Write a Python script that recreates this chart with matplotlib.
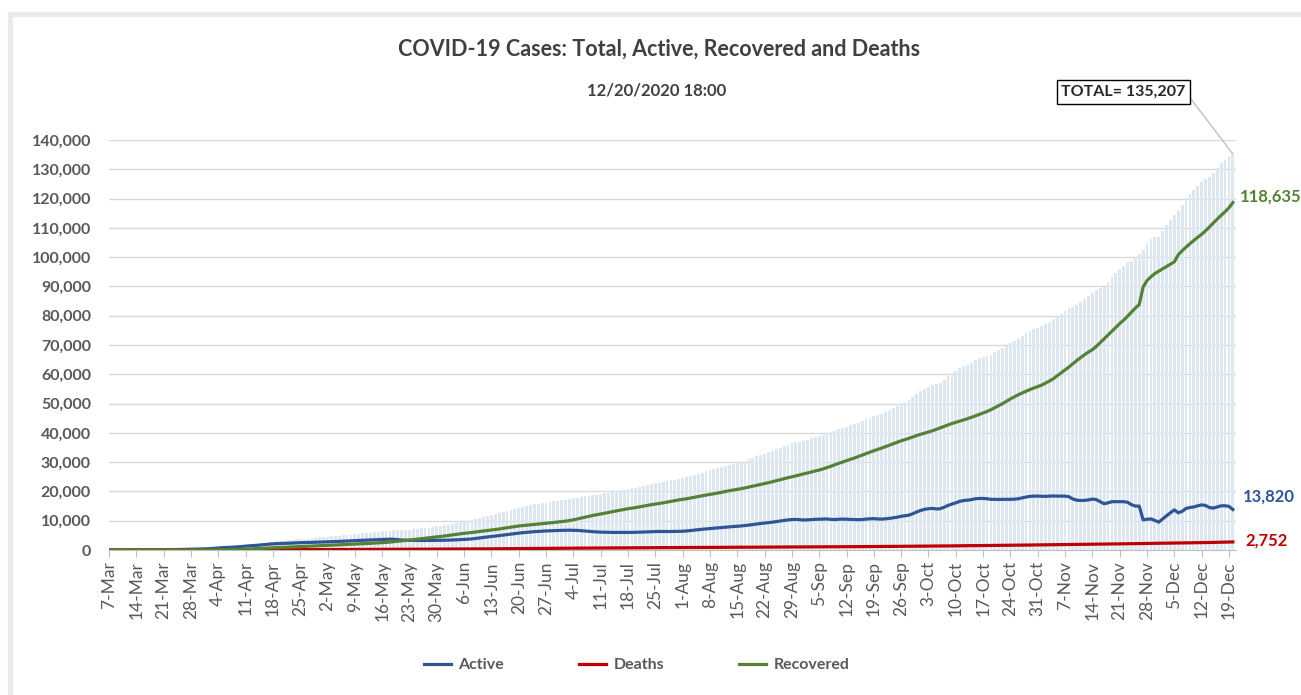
import numpy as np
import pandas as pd
import matplotlib
matplotlib.use('Agg')
import matplotlib.pyplot as plt
from matplotlib.patches import Rectangle
from matplotlib.ticker import FuncFormatter

plt.rcParams['font.family'] = ['Lato', 'DejaVu Sans']

start_date = '2020-03-07'
end_date = '2020-12-20'
stamp = '12/20/2020 18:00'

# daily values, one row per week (Sat..Fri)
active = [
    1, 1, 3, 3, 6, 6, 12,
    23, 29, 30, 36, 49, 66, 80,
    92, 107, 122, 145, 172, 195, 225,
    255, 292, 335, 345, 405, 460, 570,
    680, 790, 850, 910, 980, 1080, 1190,
    1320, 1440, 1530, 1620, 1750, 1870, 1980,
    2090, 2150, 2200, 2260, 2330, 2390, 2440,
    2490, 2530, 2560, 2600, 2650, 2700, 2740,
    2780, 2830, 2880, 2930, 3000, 3070, 3140,
    3200, 3260, 3320, 3380, 3430, 3490, 3550,
    3610, 3650, 3700, 3640, 3520, 3420, 3350,
    3310, 3280, 3260, 3250, 3240, 3250, 3270,
    3290, 3300, 3320, 3360, 3410, 3470, 3540,
    3610, 3690, 3800, 3950, 4120, 4300, 4460,
    4600, 4760, 4930, 5100, 5280, 5450, 5620,
    5800, 5920, 6040, 6150, 6260, 6350, 6430,
    6500, 6560, 6620, 6670, 6710, 6740, 6760,
    6740, 6690, 6600, 6480, 6350, 6250, 6170,
    6100, 6060, 6030, 6010, 6000, 5990, 5990,
    6000, 6020, 6050, 6100, 6150, 6200, 6250,
    6300, 6330, 6320, 6300, 6310, 6340, 6370,
    6400, 6500, 6650, 6800, 6950, 7080, 7200,
    7300, 7420, 7550, 7680, 7800, 7920, 8020,
    8100, 8200, 8350, 8520, 8700, 8880, 9050,
    9200, 9350, 9500, 9700, 9900, 10100, 10280,
    10400, 10450, 10350, 10250, 10300, 10400, 10480,
    10500, 10550, 10600, 10450, 10400, 10500, 10550,
    10500, 10450, 10400, 10350, 10400, 10550, 10650,
    10700, 10600, 10550, 10650, 10800, 11000, 11200,
    11500, 11700, 11900, 12400, 13000, 13500, 13900,
    14100, 14200, 14000, 14100, 14600, 15200, 15700,
    16100, 16600, 16900, 17000, 17200, 17500, 17600,
    17600, 17500, 17300, 17300, 17250, 17300, 17300,
    17300, 17350, 17500, 17800, 18100, 18300, 18400,
    18400, 18350, 18300, 18400, 18450, 18400, 18400,
    18400, 18200, 17400, 17000, 16900, 16950, 17100,
    17400, 17200, 16500, 15800, 16100, 16500, 16500,
    16500, 16500, 16300, 15500, 15000, 15000, 10300,
    10500, 10600, 10100, 9500, 10600, 11700, 12700,
    13700, 12700, 13200, 14200, 14500, 14700, 15100,
    15400, 15200, 14500, 14300, 14700, 15100, 15100,
    14900, 13820,
]

recovered = [
    0, 0, 0, 0, 0, 0, 0,
    0, 0, 0, 0, 0, 1, 1,
    1, 1, 1, 2, 2, 3, 3,
    5, 8, 12, 18, 25, 30, 40,
    50, 70, 90, 120, 150, 190, 240,
    300, 350, 400, 460, 520, 590, 650,
    710, 760, 820, 870, 930, 990, 1050,
    1110, 1170, 1240, 1320, 1390, 1460, 1530,
    1600, 1660, 1710, 1770, 1830, 1890, 1950,
    2010, 2080, 2140, 2210, 2280, 2350, 2420,
    2500, 2600, 2700, 2850, 3000, 3100, 3250,
    3400, 3550, 3700, 3850, 4000, 4150, 4300,
    4450, 4620, 4780, 4950, 5150, 5350, 5530,
    5700, 5850, 5980, 6150, 6320, 6500, 6650,
    6800, 6990, 7180, 7400, 7600, 7800, 8000,
    8200, 8330, 8450, 8600, 8750, 8880, 9000,
    9100, 9250, 9400, 9550, 9700, 9850, 10050,
    10300, 10600, 10900, 11200, 11500, 11800, 12050,
    12300, 12550, 12800, 13100, 13350, 13600, 13850,
    14100, 14300, 14500, 14750, 14990, 15250, 15480,
    15700, 15900, 16100, 16350, 16600, 16850, 17100,
    17300, 17500, 17750, 18000, 18250, 18500, 18750,
    19000, 19200, 19450, 19700, 20000, 20250, 20500,
    20700, 20950, 21200, 21500, 21800, 22100, 22400,
    22700, 23000, 23300, 23650, 24000, 24350, 24700,
    25000, 25300, 25650, 26000, 26300, 26650, 27000,
    27300, 27700, 28150, 28600, 29100, 29600, 30050,
    30500, 30950, 31400, 31900, 32400, 32900, 33400,
    33900, 34350, 34800, 35300, 35800, 36300, 36800,
    37300, 37700, 38150, 38600, 39100, 39500, 39900,
    40300, 40700, 41200, 41700, 42200, 42700, 43200,
    43600, 44000, 44400, 44850, 45300, 45800, 46300,
    46800, 47300, 47900, 48600, 49300, 50000, 50800,
    51600, 52300, 53000, 53600, 54200, 54800, 55300,
    55800, 56300, 57000, 57700, 58500, 59500, 60500,
    61500, 62500, 63600, 64700, 65700, 66700, 67600,
    68400, 69500, 70800, 72100, 73400, 74700, 76000,
    77300, 78500, 79800, 81200, 82600, 83800, 89800,
    92000, 93300, 94400, 95200, 96000, 96800, 97600,
    98400, 100800, 102200, 103400, 104600, 105700, 106800,
    107800, 109000, 110300, 111700, 113000, 114300, 115500,
    116900, 118635,
]

deaths = [
    0, 0, 0, 0, 0, 0, 0,
    0, 0, 0, 0, 0, 0, 1,
    1, 1, 1, 1, 1, 1, 1,
    2, 2, 2, 3, 4, 5, 8,
    12, 15, 19, 23, 27, 29, 31,
    35, 40, 45, 50, 56, 61, 66,
    70, 75, 78, 82, 86, 91, 96,
    100, 104, 108, 112, 117, 122, 128,
    135, 140, 145, 150, 155, 160, 165,
    170, 176, 181, 187, 193, 199, 205,
    210, 216, 222, 228, 234, 240, 245,
    250, 256, 262, 267, 272, 277, 281,
    285, 291, 298, 305, 312, 319, 325,
    332, 342, 353, 364, 376, 388, 400,
    412, 424, 436, 448, 460, 472, 484,
    495, 505, 515, 525, 535, 545, 555,
    564, 573, 582, 591, 600, 609, 618,
    627, 636, 645, 654, 663, 672, 681,
    690, 698, 706, 714, 722, 730, 738,
    746, 754, 762, 770, 778, 786, 794,
    802, 808, 814, 820, 826, 832, 838,
    844, 850, 856, 862, 868, 874, 880,
    886, 892, 898, 904, 910, 916, 922,
    928, 934, 940, 946, 952, 958, 964,
    970, 976, 982, 988, 994, 1000, 1006,
    1012, 1019, 1026, 1033, 1040, 1047, 1054,
    1062, 1070, 1078, 1086, 1094, 1102, 1110,
    1118, 1127, 1136, 1145, 1154, 1163, 1172,
    1181, 1191, 1201, 1211, 1221, 1231, 1241,
    1251, 1262, 1273, 1284, 1295, 1306, 1318,
    1330, 1342, 1354, 1366, 1378, 1391, 1404,
    1417, 1430, 1444, 1458, 1472, 1486, 1500,
    1514, 1529, 1544, 1559, 1574, 1589, 1604,
    1619, 1635, 1651, 1667, 1683, 1699, 1715,
    1731, 1748, 1765, 1782, 1799, 1816, 1833,
    1850, 1867, 1884, 1901, 1918, 1935, 1952,
    1969, 1987, 2005, 2023, 2041, 2059, 2077,
    2095, 2114, 2133, 2152, 2171, 2190, 2209,
    2228, 2248, 2268, 2288, 2308, 2328, 2348,
    2368, 2389, 2410, 2431, 2452, 2473, 2494,
    2515, 2540, 2565, 2590, 2615, 2640, 2665,
    2700, 2752,
]

dates = pd.date_range(start_date, end_date, freq='D')
tick_labels = [f'{d.day}-{d.strftime("%b")}' for d in dates[::7]]

total = np.array(active) + np.array(recovered) + np.array(deaths)
x = np.arange(len(dates))

C_ACT = '#2f5597'
C_DEA = '#c00000'
C_REC = '#548235'
C_TXT = '#595959'

W, H = 1301, 695
fig = plt.figure(figsize=(W / 100, H / 100), dpi=100)
fig.patches.append(Rectangle((9.5 / W, -0.2), 1.5, 1 - 13.5 / H + 0.2,
                             transform=fig.transFigure, fill=False,
                             ec='#ebebeb', lw=3.8))

ax = fig.add_axes([109 / W, 1 - 550 / H, (1236 - 109) / W, (550 - 140) / H])
ax.bar(x, total, width=0.72, color='#dde7f2', linewidth=0, zorder=1)
l_act, = ax.plot(x, active, color=C_ACT, lw=2.3, zorder=3, label='Active')
l_dea, = ax.plot(x, deaths, color=C_DEA, lw=2.3, zorder=3, label='Deaths')
l_rec, = ax.plot(x, recovered, color=C_REC, lw=2.3, zorder=3, label='Recovered')

ax.set_xlim(0, len(x) - 0.2)
ax.set_ylim(0, 140000)
ax.set_yticks(np.arange(0, 140001, 10000))
ax.yaxis.set_major_formatter(FuncFormatter(lambda v, p: f'{v:,.0f}'))
ax.grid(axis='y', color='#d9d9d9', lw=1)
ax.set_axisbelow(True)
for s in ['top', 'right', 'left']:
    ax.spines[s].set_visible(False)
ax.spines['bottom'].set_color('#bfbfbf')
ax.tick_params(axis='y', length=0, pad=13, labelsize=11.5, labelcolor=C_TXT)
for t in ax.get_yticklabels():
    t.set_fontweight('bold')
ax.set_xticks(x[::7])
ax.set_xticklabels(tick_labels, rotation=90, fontsize=12.5, color=C_TXT)
ax.tick_params(axis='x', length=5, color='#bfbfbf', pad=3)

# end-of-series labels
ax.annotate(f'{recovered[-1]:,}', (x[-1], recovered[-1]), xytext=(7, 6),
            textcoords='offset pixels', color=C_REC, fontsize=12,
            fontweight='bold', va='center', annotation_clip=False)
ax.annotate(f'{active[-1]:,}', (x[-1], active[-1]), xytext=(10, 13),
            textcoords='offset pixels', color=C_ACT, fontsize=12,
            fontweight='bold', va='center', annotation_clip=False)
ax.annotate(f'{deaths[-1]:,}', (x[-1], deaths[-1]), xytext=(12, 1),
            textcoords='offset pixels', color=C_DEA, fontsize=12,
            fontweight='bold', va='center', annotation_clip=False)
ax.annotate(f'TOTAL= {total[-1]:,}', (x[-1], total[-1]),
            xytext=(1123.5, H - 92), textcoords='figure pixels',
            ha='center', va='center', fontsize=11.5, fontweight='bold',
            color='#262626',
            bbox=dict(boxstyle='square,pad=0.3', fc='white', ec='black', lw=1),
            arrowprops=dict(arrowstyle='-', color='#bfbfbf', lw=1,
                            relpos=(1, 0.5), shrinkA=0, shrinkB=0),
            annotation_clip=False)

fig.text(659 / W, 1 - 49 / H, 'COVID-19 Cases: Total, Active, Recovered and Deaths',
         ha='center', va='center', fontsize=15.5, fontweight='bold', color='#404040')
fig.text(656.5 / W, 1 - 90 / H, stamp, ha='center', va='center',
         fontsize=12, fontweight='bold', color='#404040')

leg = fig.legend(handles=[l_act, l_dea, l_rec], loc='center', ncol=3,
                 bbox_to_anchor=(636.5 / W, 1 - 665 / H), frameon=False,
                 handlelength=1.7, handletextpad=0.45, columnspacing=4.7,
                 prop={'size': 11.5, 'weight': 'bold'})
for t in leg.get_texts():
    t.set_color(C_TXT)

fig.savefig('out.png', dpi=100)
